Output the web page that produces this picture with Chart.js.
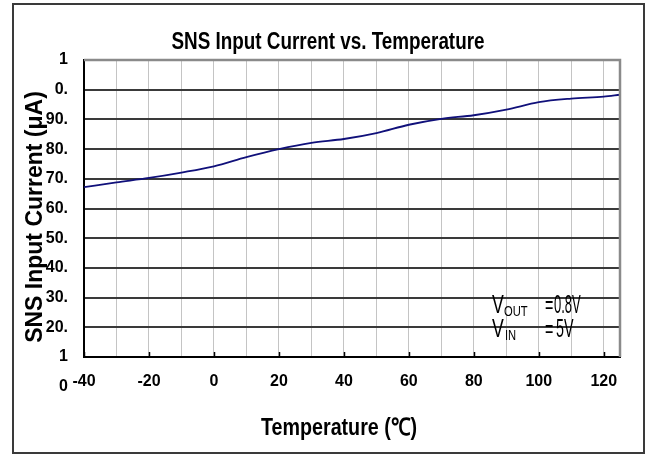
<!DOCTYPE html>
<html>
<head>
<meta charset="utf-8">
<script src="https://cdn.jsdelivr.net/npm/chart.js@4.4.0/dist/chart.umd.min.js"></script>
<style>
  html, body { margin: 0; padding: 0; background: #fff; }
  #wrap { width: 648px; height: 456px; }
</style>
</head>
<body>
<div id="wrap"><canvas id="myChart" width="648" height="456"></canvas></div>
<script>
// data
const temps = [-40, -30, -20, -10, 0, 10, 20, 30, 40, 50, 60, 70, 80, 90, 100, 110, 120, 125]
const current = [67.2, 68.8, 70.3, 72.1, 74.2, 77.3, 80.0, 82.1, 83.4, 85.4, 88.2, 90.2, 91.4, 93.3, 95.8, 97.0, 97.7, 98.3]

// tick labels (the y labels are printed truncated in the original)
const xTickValues = [-40, -20, 0, 20, 40, 60, 80, 100, 120]
const yTickValues = [110, 100, 90, 80, 70, 60, 50, 40, 30, 20, 10, 0]
const yTickLabels = ["1", "0.", "90.", "80.", "70.", "60.", "50.", "40.", "30.", "20.", "1", "0"]

const fontFamily = "'Liberation Sans', Arial, sans-serif"

const chartTitle = "SNS Input Current vs. Temperature"
const xTitle = "Temperature (\u2103)"
const yTitle = "SNS Input Current (\u03bcA)"

// text squeezed sideways, the original uses a narrow face
function squeezed(c, txt, x, y, font, sx, align) {
  c.save()
  c.translate(x, y)
  c.scale(sx, 1)
  c.font = font
  c.textAlign = align || "left"
  c.fillText(txt, 0, 0)
  c.restore()
}

// frame, borders, inner ticks, titles and the V_OUT / V_IN note
const decor = {
  id: "decor",
  beforeDraw(chart) {
    const c = chart.ctx
    c.save()
    c.fillStyle = "#fff"
    c.fillRect(0, 0, chart.width, chart.height)
    c.strokeStyle = "#3a3a3a"
    c.lineWidth = 2
    c.strokeRect(13, 4, 631, 449)
    c.restore()
  },
  afterDraw(chart) {
    const c = chart.ctx
    const a = chart.chartArea
    const xs = chart.scales.x
    const ys = chart.scales.y
    c.save()

    // gray top and right edge of plot
    c.strokeStyle = "#8a8a8a"
    c.lineWidth = 2.5
    c.beginPath()
    c.moveTo(a.left, a.top)
    c.lineTo(a.right, a.top)
    c.lineTo(a.right, a.bottom)
    c.stroke()

    // small inner tick marks on the x axis
    c.strokeStyle = "#000"
    c.lineWidth = 1.5
    xTickValues.forEach(v => {
      const px = Math.round(xs.getPixelForValue(v)) + 0.5
      c.beginPath()
      c.moveTo(px, a.bottom - 5)
      c.lineTo(px, a.bottom)
      c.stroke()
    })

    // stray "0" label under the y axis
    c.fillStyle = "#000"
    c.font = "bold 16px " + fontFamily
    c.textAlign = "right"
    c.textBaseline = "middle"
    c.fillText(yTickLabels[yTickLabels.length - 1], a.left - 16, ys.getPixelForValue(0))

    // titles
    c.textBaseline = "alphabetic"
    squeezed(c, chartTitle, 328, 49, "bold 23px " + fontFamily, 0.82, "center")
    squeezed(c, xTitle, 339, 435, "bold 24px " + fontFamily, 0.82, "center")
    c.save()
    c.translate(42, 217)
    c.rotate(-Math.PI / 2)
    c.font = "bold 23px " + fontFamily
    c.textAlign = "center"
    c.fillText(yTitle, 0, 0)
    c.restore()

    // note
    const ax = a.right - 128
    const y1 = a.bottom - 44
    const y2 = a.bottom - 20
    const f = (s) => s + "px " + fontFamily
    squeezed(c, "V", ax, y1, f(26), 0.68)
    squeezed(c, "OUT", ax + 12, y1 + 3, f(14), 0.8)
    squeezed(c, "=", ax + 53, y1, f(26), 0.55)
    squeezed(c, "0.8V", ax + 62, y1, f(26), 0.5)
    squeezed(c, "V", ax, y2, f(26), 0.68)
    squeezed(c, "IN", ax + 13, y2 + 3, f(14), 0.8)
    squeezed(c, "=", ax + 53, y2, f(26), 0.55)
    squeezed(c, "5V", ax + 64, y2, f(26), 0.55)

    c.restore()
  }
}

const ctx = document.getElementById("myChart")

new Chart(ctx, {
  type: "line",
  data: {
    datasets: [{
      label: "SNS Input Current",
      data: temps.map((t, i) => ({ x: t, y: current[i] })),
      borderColor: "#10107a",
      borderWidth: 1.8,
      pointRadius: 0,
      tension: 0.4,
      cubicInterpolationMode: "monotone",
      fill: false
    }]
  },
  options: {
    responsive: false,
    animation: false,
    layout: { padding: { top: 60, right: 28, left: 0, bottom: 0 } },
    plugins: {
      legend: { display: false },
      tooltip: { enabled: false },
      title: { display: false }
    },
    scales: {
      x: {
        type: "linear",
        min: -40,
        max: 125,
        afterFit: (scale) => { scale.height = 99 },
        ticks: {
          stepSize: 10,
          includeBounds: false,
          autoSkip: false,
          maxRotation: 0,
          padding: 15,
          color: "#000",
          font: { family: fontFamily, size: 16, weight: "bold" },
          callback: (v) => xTickValues.includes(Math.round(v)) ? String(Math.round(v)) : ""
        },
        grid: { color: "#c4c4c4", lineWidth: 1, drawTicks: false },
        border: { color: "#000", width: 2 }
      },
      y: {
        min: 10,
        max: 110,
        afterFit: (scale) => { scale.width = 84 },
        ticks: {
          stepSize: 10,
          padding: 16,
          color: "#000",
          font: { family: fontFamily, size: 16, weight: "bold" },
          callback: (v) => {
            const i = yTickValues.indexOf(Math.round(v))
            return i >= 0 ? yTickLabels[i] : ""
          }
        },
        grid: {
          color: (c) => c.tick && c.tick.value === 110 ? "rgba(0,0,0,0)" : "#3a3a3a",
          lineWidth: 2,
          drawTicks: false
        },
        border: { color: "#000", width: 2 }
      }
    }
  },
  plugins: [decor]
})
</script>
</body>
</html>
